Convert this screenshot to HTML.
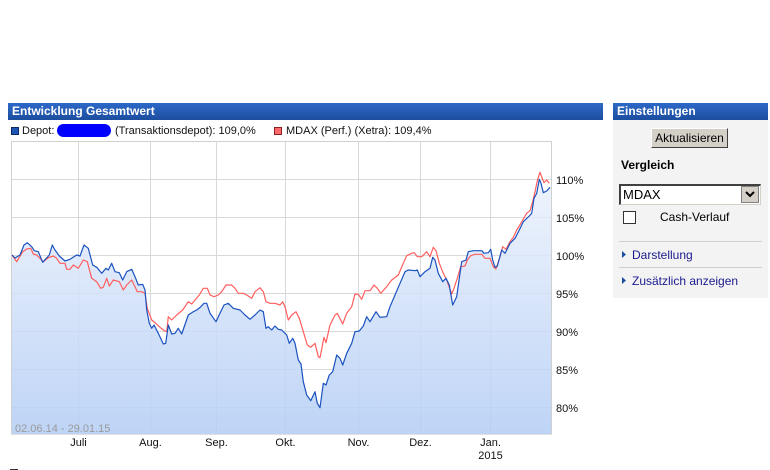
<!DOCTYPE html>
<html><head><meta charset="utf-8">
<style>
html,body{margin:0;padding:0;background:#fff;}
body{width:770px;height:470px;overflow:hidden;position:relative;font-family:"Liberation Sans",sans-serif;}
.hdr{position:absolute;top:103px;height:17px;background:linear-gradient(#2d68c8,#1d4e9e);color:#fff;font-weight:bold;font-size:12px;line-height:17px;padding-left:4px;box-sizing:border-box;}
.panel{position:absolute;left:613px;top:120px;width:155px;height:178px;background:#f3f3f3;}
.abs{position:absolute;white-space:nowrap;}
</style></head><body>
<div class="hdr" style="left:8px;width:595px;">Entwicklung Gesamtwert</div>
<div class="hdr" style="left:613px;width:155px;">Einstellungen</div>
<div class="panel"></div>
<div class="abs" style="left:651px;top:128px;width:77px;height:20px;background:#d4d0c8;border-top:1px solid #fff;border-left:1px solid #fff;border-right:1px solid #404040;border-bottom:1px solid #404040;box-sizing:border-box;font-size:12px;line-height:18px;text-align:center;color:#000;">Aktualisieren</div>
<div class="abs" style="left:621px;top:158px;font-size:12px;font-weight:bold;color:#000;">Vergleich</div>
<div class="abs" style="left:619px;top:184px;width:142px;height:21px;background:#fff;border-top:2px solid #404040;border-left:2px solid #404040;border-right:1px solid #d4d0c8;border-bottom:1px solid #d4d0c8;box-sizing:border-box;"></div>
<div class="abs" style="left:623px;top:186px;font-size:13px;color:#000;line-height:17px;">MDAX</div>
<div class="abs" style="left:741px;top:186px;width:18px;height:17px;background:#d4d0c8;border:1px solid #808080;box-sizing:border-box;"></div>
<svg class="abs" style="left:741px;top:186px;" width="18" height="17"><polyline points="5,6 9,10 13,6" fill="none" stroke="#000" stroke-width="2"/></svg>
<div class="abs" style="left:623px;top:211px;width:13px;height:13px;background:#fff;border:1px solid #333;box-sizing:border-box;"></div>
<div class="abs" style="left:660px;top:210px;font-size:12px;color:#000;">Cash-Verlauf</div>
<div class="abs" style="left:619px;top:241px;width:143px;height:1px;background:#cfcfcf;"></div>
<div class="abs" style="left:619px;top:267px;width:143px;height:1px;background:#cfcfcf;"></div>
<svg class="abs" style="left:622px;top:250px;" width="6" height="40"><polygon points="0,1 4,4.5 0,8" fill="#1d4e9e"/><polygon points="0,27 4,30.5 0,34" fill="#1d4e9e"/></svg>
<div class="abs" style="left:632px;top:248px;font-size:12px;color:#1a1a8c;">Darstellung</div>
<div class="abs" style="left:632px;top:274px;font-size:12px;color:#1a1a8c;">Zusätzlich anzeigen</div>

<div class="abs" style="left:11px;top:127px;width:8px;height:8px;background:#1d55b4;border:1px solid #0c2a66;box-sizing:border-box;"></div>
<div class="abs" style="left:22px;top:125px;font-size:11px;color:#111;">Depot:</div>
<div class="abs" style="left:57px;top:124px;width:54px;height:13px;background:#0000ff;border-radius:7px;"></div>
<div class="abs" style="left:115px;top:125px;font-size:11px;color:#111;">(Transaktionsdepot): 109,0%</div>
<div class="abs" style="left:274px;top:127px;width:8px;height:8px;background:#ff6b6b;border:1px solid #8a2020;box-sizing:border-box;"></div>
<div class="abs" style="left:286px;top:125px;font-size:11px;color:#111;">MDAX (Perf.) (Xetra): 109,4%</div>

<svg class="abs" style="left:0;top:0;" width="770" height="470">
<defs>
<linearGradient id="g" x1="0" y1="142" x2="0" y2="434" gradientUnits="userSpaceOnUse">
<stop offset="0" stop-color="#f4f7fd"/>
<stop offset="1" stop-color="#b3cdf5"/>
</linearGradient>
</defs>
<g stroke="#d9d9d9" stroke-width="1" fill="none">
<line x1="11" y1="179.5" x2="551" y2="179.5"/>
<line x1="11" y1="217.5" x2="551" y2="217.5"/>
<line x1="11" y1="255.5" x2="551" y2="255.5"/>
<line x1="11" y1="293.5" x2="551" y2="293.5"/>
<line x1="11" y1="331.5" x2="551" y2="331.5"/>
<line x1="11" y1="369.5" x2="551" y2="369.5"/>
<line x1="11" y1="407.5" x2="551" y2="407.5"/>
<line x1="78.5" y1="142" x2="78.5" y2="434"/>
<line x1="150.5" y1="142" x2="150.5" y2="434"/>
<line x1="216.5" y1="142" x2="216.5" y2="434"/>
<line x1="285.5" y1="142" x2="285.5" y2="434"/>
<line x1="358.5" y1="142" x2="358.5" y2="434"/>
<line x1="420.5" y1="142" x2="420.5" y2="434"/>
<line x1="490.5" y1="142" x2="490.5" y2="434"/>
</g>
<polygon fill="url(#g)" fill-opacity="0.85" points="12,255 15,258 20,255 24,245 27.3,242.7 31.7,246.7 34.3,250.7 38.3,251.7 42.7,262.3 49.3,255 52.3,245 55,250 59.3,256 65,261 70,259.3 76.7,255 80,256 84,245 88.3,248.3 92.7,265 96.7,267.3 101.7,273.3 106,268.3 108.3,270 111.7,263.3 115,271.7 119.3,272.7 122.7,280 126.7,271.7 131.7,269.3 135,276.7 138.3,285 142.7,284.3 145,290 146.7,310 149.3,323.3 151.7,328.3 154,325 158.3,333.3 163.3,344 165.7,343.3 168.3,325 171.7,334 175,333.3 178.3,328.3 181.7,334 188.3,315 193.3,311.7 196.7,310 200,307.5 204,303.3 206.7,303.3 210,313.3 216,321.7 220,313.3 224,305 228.3,303.3 233.3,308.3 240,310 245,315 250,319.3 255,315 260,310 263.3,311.7 266,328.3 268.3,326.7 271.7,330 275,326 278.3,329.3 281.7,330 286.7,335 289.3,343.3 292.7,338.3 295,343.3 298.3,360 301,364 303.3,381.7 306.7,395 310.7,400.7 315,391.7 317.3,403.3 320,407.7 323.3,383.3 326,385 329.3,375 332.7,371.7 336.7,355 340,358.3 342.7,365 346.7,353.3 351.7,343.3 355,331.7 359.3,331 363.3,326 366.7,316.7 370,321.7 376,311.7 380,317.3 386.7,316.7 390,306.7 395,295 400,283.3 405,271.7 408.3,270 415,270.7 417.3,270 420,276.7 425,271.7 430,268.3 432.7,257.3 435,260 438.3,273.3 442.7,281.7 446,278.3 449.3,285 452.7,305 456.7,296.7 460,273.3 461.7,261.7 466,260 468.3,251.7 473.3,250.7 481.7,250.7 484,253.3 488.3,252.7 490.7,249.3 492.7,260 495,267.3 497.3,266 501.7,250 505,253.3 510,243.3 515,238.3 519.3,230 523.3,221.7 529.3,216 531.7,213.3 534,198.3 536.7,193.3 539.3,179.3 541,183.3 543.3,192.7 546.7,191 550,187.3 551,187 551,434 11,434 11,255"/>
<polyline points="11.5,434 11.5,141.5 551.5,141.5 551.5,435" fill="none" stroke="#d0d0d0" stroke-width="1"/>
<line x1="11" y1="434.5" x2="552" y2="434.5" stroke="#e0e0e0" stroke-width="1"/>
<polyline fill="none" stroke="#ff5e5e" stroke-width="1.2" stroke-linejoin="round" points="12,255 16.7,261.7 22.7,251.7 26.7,249 30.7,248.3 33.3,254 36.7,255 43.3,261.7 48.3,257.7 53.3,256 56.7,258.3 60,263.3 65,263.3 66.7,269.3 70,269.3 73.3,265 78.3,268.3 83.3,260 87.3,261.7 91.7,278.3 96.7,281.7 100.7,288.3 103.3,287.3 106.7,278.3 109.3,286 113.3,280 119.3,281.7 123.3,290 126.7,285 131.7,280 135,286.7 137.3,291.7 141.7,291.7 145,293.3 147.3,308.3 151.7,320 155,322.7 159.3,326.7 163.3,330 166.7,331.7 168.3,316.7 171.7,320 176.7,315 182.7,310 188.3,301.7 191.7,304 195,300 199.3,295 203.3,288.3 207.3,288.3 210,295 214,296.7 218.3,295 221.7,291.7 226,285 231.7,285 235,288.3 238.3,293.3 243.3,293.3 246.7,295 251.7,298.3 255,291.7 260,287.7 263.3,291.7 266,301.7 270,303.3 275,303.3 280,305 282.7,301.7 285,306.7 288.3,320 291.7,315 296,311.7 299.3,318.3 303.3,331.7 307.3,345 310.7,347.3 315,343.3 318.3,356.7 320,357.7 324,337.3 326,342.7 330,325 335,315 337.3,313.3 342.7,324 346.7,313.3 351.7,306.7 355,294 358.3,294.3 361.7,299.3 365,290.7 370,290.7 374,285 377.3,288.3 380.7,293.3 386.7,286.7 391.7,280 398.3,275 403.3,263.3 406.7,255.7 411.7,253.3 414.3,252.7 417.3,256.7 421.7,256.7 426.7,251.7 430,256.7 433.3,247.3 436,250.7 439.3,263.3 443.3,273.3 446.7,280 451.7,294 454,288.3 457.3,278.3 460.7,266.7 465,266 467.3,260 470.7,255.7 475,254.3 481.7,254.3 485,258.3 490,258.3 493.3,266.7 496,269 500,256.7 502.7,246.7 506,249.3 510,241.7 513.3,237.3 516.7,230 519.3,226 522.7,220 526.7,213.3 530,210.7 532.7,201.7 535,191.7 537.3,180.7 540,172.3 542.3,178.3 544,182.7 546.7,180 549.3,183.3"/>
<polyline fill="none" stroke="#1a52bf" stroke-width="1.2" stroke-linejoin="round" points="12,255 15,258 20,255 24,245 27.3,242.7 31.7,246.7 34.3,250.7 38.3,251.7 42.7,262.3 49.3,255 52.3,245 55,250 59.3,256 65,261 70,259.3 76.7,255 80,256 84,245 88.3,248.3 92.7,265 96.7,267.3 101.7,273.3 106,268.3 108.3,270 111.7,263.3 115,271.7 119.3,272.7 122.7,280 126.7,271.7 131.7,269.3 135,276.7 138.3,285 142.7,284.3 145,290 146.7,310 149.3,323.3 151.7,328.3 154,325 158.3,333.3 163.3,344 165.7,343.3 168.3,325 171.7,334 175,333.3 178.3,328.3 181.7,334 188.3,315 193.3,311.7 196.7,310 200,307.5 204,303.3 206.7,303.3 210,313.3 216,321.7 220,313.3 224,305 228.3,303.3 233.3,308.3 240,310 245,315 250,319.3 255,315 260,310 263.3,311.7 266,328.3 268.3,326.7 271.7,330 275,326 278.3,329.3 281.7,330 286.7,335 289.3,343.3 292.7,338.3 295,343.3 298.3,360 301,364 303.3,381.7 306.7,395 310.7,400.7 315,391.7 317.3,403.3 320,407.7 323.3,383.3 326,385 329.3,375 332.7,371.7 336.7,355 340,358.3 342.7,365 346.7,353.3 351.7,343.3 355,331.7 359.3,331 363.3,326 366.7,316.7 370,321.7 376,311.7 380,317.3 386.7,316.7 390,306.7 395,295 400,283.3 405,271.7 408.3,270 415,270.7 417.3,270 420,276.7 425,271.7 430,268.3 432.7,257.3 435,260 438.3,273.3 442.7,281.7 446,278.3 449.3,285 452.7,305 456.7,296.7 460,273.3 461.7,261.7 466,260 468.3,251.7 473.3,250.7 481.7,250.7 484,253.3 488.3,252.7 490.7,249.3 492.7,260 495,267.3 497.3,266 501.7,250 505,253.3 510,243.3 515,238.3 519.3,230 523.3,221.7 529.3,216 531.7,213.3 534,198.3 536.7,193.3 539.3,179.3 541,183.3 543.3,192.7 546.7,191 550,187.3"/>
<g font-family="Liberation Sans, sans-serif" font-size="11" fill="#111">
<text x="556" y="184">110%</text>
<text x="556" y="222">105%</text>
<text x="556" y="260">100%</text>
<text x="556" y="298">95%</text>
<text x="556" y="336">90%</text>
<text x="556" y="374">85%</text>
<text x="556" y="412">80%</text>
<g text-anchor="middle">
<text x="78.5" y="446">Juli</text>
<text x="150.5" y="446">Aug.</text>
<text x="216.5" y="446">Sep.</text>
<text x="285.5" y="446">Okt.</text>
<text x="358.5" y="446">Nov.</text>
<text x="420.5" y="446">Dez.</text>
<text x="490.5" y="446">Jan.</text>
<text x="490.5" y="459">2015</text>
</g>
<text x="15" y="432" fill="#9a9a9a">02.06.14 - 29.01.15</text>
</g>
<rect x="10.5" y="469.5" width="7" height="7" fill="none" stroke="#333"/>
<text x="22" y="478" font-family="Liberation Sans, sans-serif" font-size="11" fill="#111">Nur in Währung anzeigen</text>
</svg>
</body></html>
